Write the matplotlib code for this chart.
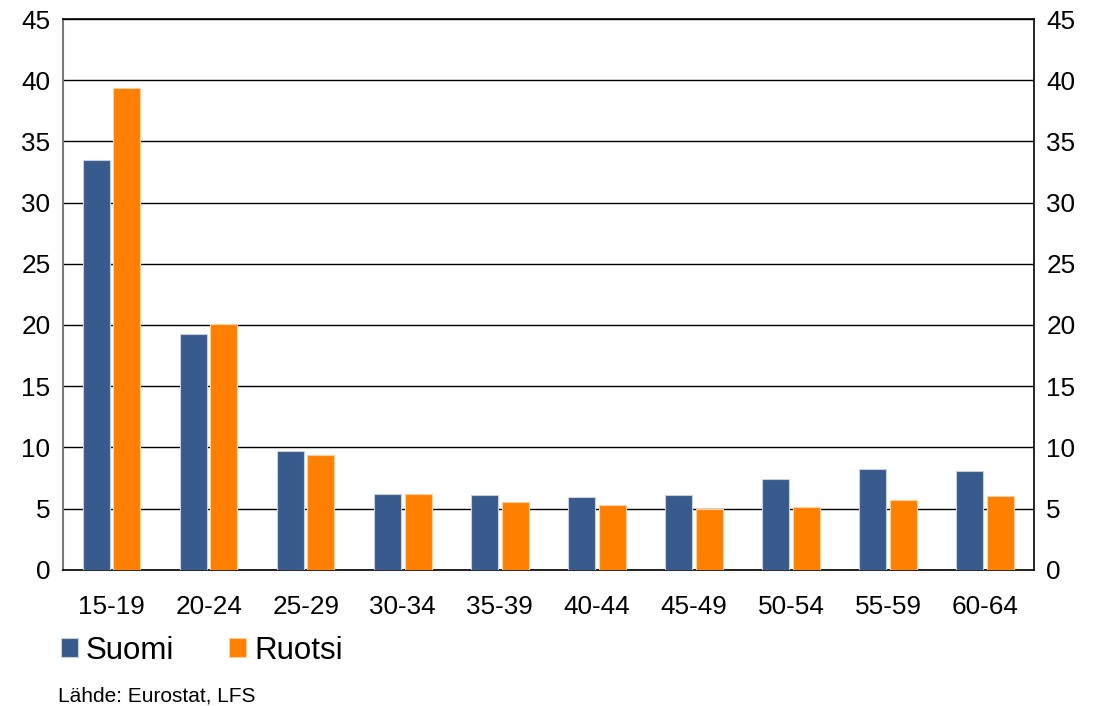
import matplotlib.pyplot as plt
import numpy as np

age_groups = ['15-19', '20-24', '25-29', '30-34', '35-39',
              '40-44', '45-49', '50-54', '55-59', '60-64']
suomi = [33.5, 19.3, 9.7, 6.2, 6.1, 5.95, 6.1, 7.4, 8.25, 8.05]
ruotsi = [39.35, 20.1, 9.4, 6.2, 5.55, 5.3, 4.95, 5.1, 5.7, 6.0]
y_ticks = [0, 5, 10, 15, 20, 25, 30, 35, 40, 45]

plt.rcParams['font.family'] = ['Liberation Sans', 'DejaVu Sans']

fig = plt.figure(figsize=(10.95, 7.06), dpi=100)
ax = fig.add_axes([0.0575, 0.193, 0.8865, 0.78])

x = np.arange(len(age_groups))
w = 0.278
ax.bar(x - 0.158, suomi, w, color='#385A8C', edgecolor='#C8D0DC', linewidth=0.8,
       label='Suomi', zorder=3)
ax.bar(x + 0.158, ruotsi, w, color='#FF8000', edgecolor='#FFD0A0', linewidth=0.8,
       label='Ruotsi', zorder=3)

ax.set_xlim(-0.5, len(age_groups) - 0.5)
ax.set_ylim(0, 45)
ax.set_yticks(y_ticks)
ax.set_xticks(x)
ax.set_xticklabels(age_groups)
ax.yaxis.grid(True, color='black', linewidth=1.0, zorder=0)
ax.tick_params(axis='both', length=0, labelsize=18.8)
ax.tick_params(axis='y', labelright=True, pad=9)
ax.tick_params(axis='x', pad=18)
for side in ['top', 'right', 'bottom']:
    ax.spines[side].set_color('black')
    ax.spines[side].set_linewidth(1.2)
ax.spines['left'].set_color('#777777')
ax.spines['left'].set_linewidth(1.5)

fig.legend(loc='center left', bbox_to_anchor=(0.03, 0.078), ncol=2,
           frameon=False, fontsize=22.5, handlelength=0.55, handleheight=0.55,
           handletextpad=0.25, columnspacing=1.75)

fig.text(0.053, 0.0, 'Lähde: Eurostat, LFS', fontsize=15, ha='left', va='bottom')

plt.savefig('out.png', dpi=100)
